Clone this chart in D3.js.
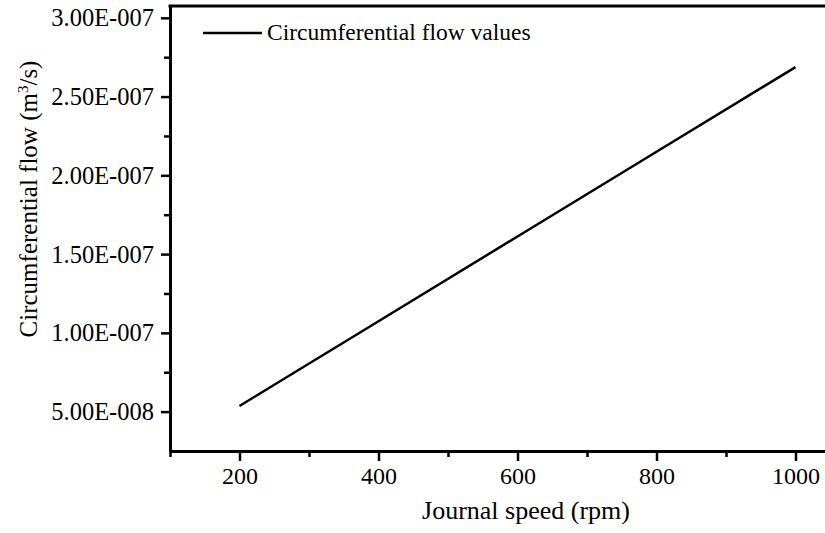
<!DOCTYPE html>
<html>
<head>
<meta charset="utf-8">
<script src="https://cdn.jsdelivr.net/npm/d3@7"></script>
<style>
  body { margin: 0; background: #fff; }
  svg { display: block; font-family: "Liberation Serif", "Times New Roman", serif; }
</style>
</head>
<body>
<svg width="825" height="533"></svg>
<script>
// journal speed (rpm) and circumferential flow (m^3/s)
const speeds = [200, 400, 600, 800, 1000];
const flows = [5.36e-8, 1.074e-7, 1.612e-7, 2.15e-7, 2.687e-7];
const seriesName = "Circumferential flow values";
const xTicks = [200, 400, 600, 800, 1000];
const xMinor = [100, 300, 500, 700, 900, 1100];
const yTicks = [5e-8, 1e-7, 1.5e-7, 2e-7, 2.5e-7, 3e-7];
const yMinor = [7.5e-8, 1.25e-7, 1.75e-7, 2.25e-7, 2.75e-7];

let svg = d3.select("svg");

const plotLeft = 170, plotBottom = 451, plotTop = 6;

let x = d3.scaleLinear().domain([100, 1100]).range([plotLeft, plotLeft + 695]);
let y = d3.scaleLinear().domain([2.5e-8, 3.075e-7]).range([plotBottom, plotTop]);

// 5.00E-008 style labels
function sci(v) {
    let s = v.toExponential(2).toUpperCase();
    let parts = s.split("E");
    let e = parseInt(parts[1]);
    let sign = e < 0 ? "-" : "+";
    return parts[0] + "E" + sign + String(Math.abs(e)).padStart(3, "0");
}

// minor ticks first so the major ones sit over them
svg.append("g")
    .attr("transform", "translate(0," + plotBottom + ")")
    .call(d3.axisBottom(x).tickValues(xMinor).tickSize(6).tickSizeOuter(0).tickFormat(""))
    .call(g => g.select(".domain").remove());

svg.append("g")
    .attr("transform", "translate(" + plotLeft + ",0)")
    .call(d3.axisLeft(y).tickValues(yMinor).tickSize(6).tickSizeOuter(0).tickFormat(""))
    .call(g => g.select(".domain").remove());

let xAxis = svg.append("g")
    .attr("transform", "translate(0," + plotBottom + ")")
    .call(d3.axisBottom(x).tickValues(xTicks).tickSize(10).tickPadding(6).tickSizeOuter(0).tickFormat(d3.format("d")));

let yAxis = svg.append("g")
    .attr("transform", "translate(" + plotLeft + ",0)")
    .call(d3.axisLeft(y).tickValues(yTicks).tickSize(9).tickPadding(7).tickSizeOuter(0).tickFormat(sci));

svg.selectAll(".tick line").attr("stroke", "#000").attr("stroke-width", 2.5);
svg.selectAll(".domain").attr("stroke", "#000").attr("stroke-width", 3);
svg.selectAll(".tick text")
    .attr("fill", "#000")
    .style("font-family", "'Liberation Serif', 'Times New Roman', serif");
xAxis.selectAll(".tick text").style("font-size", "24px");
yAxis.selectAll(".tick text").style("font-size", "24.5px").attr("dy", "0.33em");

// top frame line
svg.append("line")
    .attr("x1", plotLeft - 1.5).attr("x2", x(1100))
    .attr("y1", plotTop).attr("y2", plotTop)
    .attr("stroke", "#000").attr("stroke-width", 3);

// data line
let line = d3.line()
    .x(function (d, i) { return x(speeds[i]); })
    .y(function (d) { return y(d); });

svg.append("path")
    .datum(flows)
    .attr("d", line)
    .attr("fill", "none")
    .attr("stroke", "#000")
    .attr("stroke-width", 2.5);

// legend
svg.append("line")
    .attr("x1", 203).attr("x2", 262)
    .attr("y1", 33).attr("y2", 33)
    .attr("stroke", "#000").attr("stroke-width", 2.5);

svg.append("text")
    .attr("x", 267).attr("y", 40)
    .style("font-size", "23.5px")
    .text(seriesName);

// axis titles
svg.append("text")
    .attr("x", 526).attr("y", 519)
    .attr("text-anchor", "middle")
    .style("font-size", "26px")
    .text("Journal speed (rpm)");

let yt = svg.append("text")
    .attr("transform", "translate(37,199) rotate(-90)")
    .attr("text-anchor", "middle")
    .style("font-size", "25px");
yt.append("tspan").text("Circumferential flow (m");
yt.append("tspan").attr("dy", -9).style("font-size", "15px").text("3");
yt.append("tspan").attr("dy", 9).text("/s)");
</script>
</body>
</html>
